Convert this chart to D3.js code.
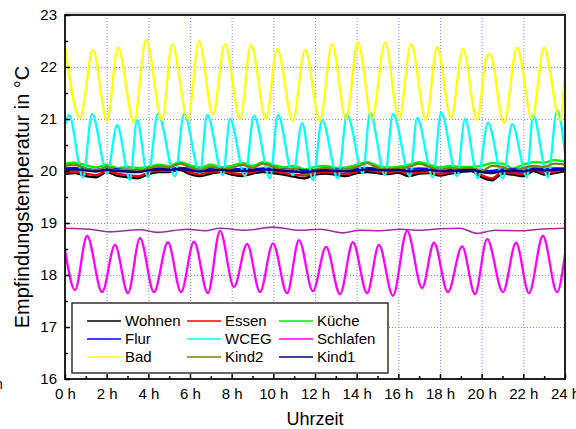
<!DOCTYPE html>
<html>
<head>
<meta charset="utf-8">
<script src="https://cdn.jsdelivr.net/npm/d3@7"></script>
<style>
  html, body { margin: 0; padding: 0; background: #fff; }
  svg { display: block; font-family: "Liberation Sans", Arial, sans-serif; }
</style>
</head>
<body>
<svg id="chart" width="576" height="429"></svg>
<script>
// half-hour grid used by the flat room series
const hours = [0, 0.5, 1, 1.5, 2, 2.5, 3, 3.5, 4, 4.5, 5, 5.5, 6, 6.5, 7, 7.5, 8, 8.5, 9, 9.5,
  10, 10.5, 11, 11.5, 12, 12.5, 13, 13.5, 14, 14.5, 15, 15.5, 16, 16.5, 17, 17.5, 18, 18.5, 19, 19.5,
  20, 20.5, 21, 21.5, 22, 22.5, 23, 23.5, 24];

const wohnen = [19.94, 19.96, 19.90, 19.88, 19.98, 19.91, 19.88, 19.86, 19.94, 19.98, 19.98, 20.02, 19.94, 19.90, 19.95, 19.98, 19.93, 19.90, 19.95, 19.98,
  19.96, 19.93, 19.89, 19.86, 19.93, 19.95, 19.93, 19.90, 19.96, 19.98, 19.96, 19.94, 19.97, 19.90, 19.95, 19.96, 19.91, 19.95, 19.98, 20.00,
  19.88, 19.82, 19.95, 19.93, 19.90, 20.00, 19.93, 19.96, 20.00];
const essen = [19.97, 19.99, 19.95, 19.92, 20.00, 19.95, 19.92, 19.90, 19.97, 20.01, 20.00, 20.05, 19.97, 19.94, 19.98, 20.00, 19.96, 19.94, 19.98, 20.02,
  20.00, 19.96, 19.93, 19.91, 19.96, 19.98, 19.96, 19.94, 19.99, 20.02, 19.99, 19.97, 20.00, 19.94, 19.98, 19.99, 19.94, 19.98, 20.01, 20.03,
  19.92, 19.86, 19.98, 19.96, 19.94, 20.03, 19.96, 19.99, 20.03];
const kueche = [20.14, 20.16, 20.11, 20.07, 20.12, 20.06, 20.08, 20.06, 20.08, 20.12, 20.10, 20.17, 20.11, 20.07, 20.12, 20.07, 20.10, 20.15, 20.10, 20.17,
  20.12, 20.07, 20.10, 20.03, 20.08, 20.10, 20.06, 20.07, 20.12, 20.17, 20.10, 20.07, 20.08, 20.12, 20.17, 20.12, 20.07, 20.10, 20.08, 20.08,
  20.10, 20.15, 20.14, 20.05, 20.12, 20.17, 20.16, 20.21, 20.18];
const flur = [20.05, 20.06, 20.04, 20.02, 20.05, 20.03, 20.02, 20.01, 20.03, 20.05, 20.04, 20.06, 20.04, 20.02, 20.04, 20.04, 20.03, 20.04, 20.03, 20.05,
  20.04, 20.03, 20.03, 20.01, 20.02, 20.04, 20.03, 20.02, 20.04, 20.06, 20.04, 20.03, 20.04, 20.03, 20.05, 20.04, 20.02, 20.03, 20.03, 20.04,
  20.01, 20.00, 20.03, 20.03, 20.02, 20.05, 20.04, 20.05, 20.05];
const kind2 = [20.10, 20.12, 20.05, 20.01, 20.08, 20.01, 20.03, 20.01, 20.05, 20.09, 20.07, 20.14, 20.07, 20.02, 20.08, 20.03, 20.06, 20.12, 20.06, 20.14,
  20.08, 20.02, 20.05, 19.94, 20.02, 20.06, 20.02, 20.03, 20.08, 20.15, 20.06, 20.03, 20.04, 20.08, 20.14, 20.08, 20.02, 20.06, 20.04, 20.05,
  20.00, 20.10, 20.08, 19.99, 20.06, 20.10, 20.08, 20.14, 20.12];
const kind1 = [20.02, 20.03, 20.01, 19.99, 20.02, 20.00, 19.99, 19.98, 20.01, 20.03, 20.02, 20.04, 20.01, 19.99, 20.01, 20.02, 20.00, 20.00, 20.01, 20.03,
  20.02, 20.00, 19.99, 19.97, 20.00, 20.01, 20.00, 19.99, 20.01, 20.03, 20.02, 20.01, 20.02, 19.99, 20.01, 20.02, 19.99, 20.00, 20.01, 20.02,
  19.98, 19.96, 20.00, 20.00, 19.99, 20.03, 20.01, 20.02, 20.03];

// oscillating rooms: turning points
const badTimes = [0, 0.72, 1.34, 2.02, 2.54, 3.31, 3.89, 4.66, 5.14, 5.90, 6.43, 7.10, 7.68, 8.40, 8.93, 9.65, 10.18, 10.94, 11.52, 12.24,
  12.82, 13.49, 14.06, 14.74, 15.36, 16.03, 16.61, 17.33, 17.86, 18.53, 19.10, 19.78, 20.21, 20.40, 21.07, 21.70, 22.42, 22.99, 23.76, 24];
const badValues = [22.40, 21.02, 22.33, 20.96, 22.37, 20.94, 22.52, 20.98, 22.44, 21.00, 22.50, 21.08, 22.44, 21.00, 22.42, 21.00, 22.35, 20.96, 22.33, 20.96,
  22.44, 21.00, 22.48, 21.00, 22.48, 21.00, 22.44, 20.98, 22.38, 21.02, 22.35, 20.98, 22.15, 22.25, 20.92, 22.37, 21.00, 22.37, 20.98, 21.94];

const wcegTimes = [0, 0.19, 0.86, 1.30, 2.02, 2.50, 3.12, 3.46, 3.98, 4.46, 5.28, 5.71, 6.48, 6.82, 7.58, 7.92, 8.64, 9.07, 9.84, 10.22,
  10.94, 11.38, 11.90, 12.34, 13.10, 13.54, 14.30, 14.64, 15.36, 15.74, 16.56, 16.90, 17.66, 18.05, 18.82, 19.20, 19.82, 20.30, 21.02, 21.46,
  22.18, 22.46, 23.18, 23.62, 24];
const wcegValues = [20.88, 21.08, 19.88, 21.10, 19.95, 20.88, 19.83, 20.98, 19.88, 21.10, 19.90, 21.10, 19.96, 21.08, 19.92, 21.00, 19.90, 21.06, 19.86, 21.08,
  19.92, 20.92, 19.83, 20.98, 19.86, 21.08, 19.96, 21.12, 19.92, 21.10, 19.90, 21.02, 19.88, 21.12, 19.90, 21.00, 19.86, 20.93, 19.86, 20.90,
  19.88, 21.08, 19.88, 21.17, 20.35];

const schlafenTimes = [0, 0.48, 1.06, 1.78, 2.40, 3.02, 3.60, 4.27, 4.94, 5.57, 6.19, 6.86, 7.44, 8.11, 8.74, 9.36, 9.98, 10.66, 11.23, 11.90,
  12.53, 13.20, 13.82, 14.50, 15.07, 15.74, 16.42, 17.14, 17.71, 18.38, 19.06, 19.68, 20.26, 21.02, 21.65, 22.27, 22.94, 23.62, 24];
const schlafenValues = [18.48, 17.71, 18.75, 17.67, 18.58, 17.65, 18.71, 17.67, 18.63, 17.67, 18.64, 17.65, 18.85, 17.77, 18.60, 17.67, 18.61, 17.65, 18.67, 17.69,
  18.54, 17.63, 18.63, 17.65, 18.58, 17.60, 18.85, 17.75, 18.62, 17.67, 18.55, 17.63, 18.69, 17.67, 18.62, 17.65, 18.75, 17.67, 18.40];

// unlabeled purple series near 18.9
const extraTimes = [0, 1.2, 2.16, 3.6, 4.42, 5.86, 6.72, 7.44, 8.64, 9.98, 11.28, 12.24, 13.34, 14.16, 15.12, 16.08, 17.04, 18.0, 18.96, 19.78,
  20.64, 21.84, 22.8, 24];
const extraValues = [18.90, 18.88, 18.83, 18.87, 18.82, 18.88, 18.85, 18.90, 18.86, 18.92, 18.86, 18.88, 18.81, 18.86, 18.85, 18.88, 18.86, 18.89, 18.90, 18.80,
  18.86, 18.85, 18.88, 18.90];

const xTicks = [0, 2, 4, 6, 8, 10, 12, 14, 16, 18, 20, 22, 24];
const xTickLabels = ["0 h", "2 h", "4 h", "6 h", "8 h", "10 h", "12 h", "14 h", "16 h", "18 h", "20 h", "22 h", "24 h"];
const yTicks = [16, 17, 18, 19, 20, 21, 22, 23];

const series = [
  {name: "Wohnen", color: "#000000", t: hours, v: wohnen},
  {name: "Essen", color: "#ff0000", t: hours, v: essen},
  {name: "Küche", color: "#00ee00", t: hours, v: kueche},
  {name: "Flur", color: "#0000ff", t: hours, v: flur},
  {name: "WCEG", color: "#00ffff", t: wcegTimes, v: wcegValues},
  {name: "Schlafen", color: "#ff00ff", t: schlafenTimes, v: schlafenValues},
  {name: "Bad", color: "#ffff00", t: badTimes, v: badValues},
  {name: "Kind2", color: "#808000", t: hours, v: kind2},
  {name: "Kind1", color: "#000080", t: hours, v: kind1},
  {name: null, color: "#993399", t: extraTimes, v: extraValues, width: 1.6}
];

const svg = d3.select("#chart");
const margin = {left: 65, right: 565, top: 15, bottom: 379};

const x = d3.scaleLinear().domain([0, 24]).range([margin.left, margin.right]);
const y = d3.scaleLinear().domain([16, 23]).range([margin.bottom, margin.top]);

// grid
const grid = svg.append("g").attr("stroke", "#7f7fff").attr("stroke-width", 1)
  .attr("stroke-dasharray", "1,2");
grid.selectAll(".vg").data(xTicks.slice(1, -1)).enter().append("line")
  .attr("x1", d => x(d) + 0.5).attr("x2", d => x(d) + 0.5)
  .attr("y1", margin.top).attr("y2", margin.bottom);
grid.selectAll(".hg").data(yTicks.slice(1, -1)).enter().append("line")
  .attr("y1", d => Math.round(y(d)) + 0.5).attr("y2", d => Math.round(y(d)) + 0.5)
  .attr("x1", margin.left).attr("x2", margin.right);

svg.append("clipPath").attr("id", "clip").append("rect")
  .attr("x", margin.left).attr("y", margin.top)
  .attr("width", margin.right - margin.left).attr("height", margin.bottom - margin.top);

const line = d3.line().curve(d3.curveMonotoneX);
const plot = svg.append("g").attr("clip-path", "url(#clip)");
series.forEach(s => {
  plot.append("path")
    .attr("d", line(s.t.map((t, i) => [x(t), y(s.v[i])])))
    .attr("fill", "none")
    .attr("stroke", s.color)
    .attr("stroke-width", s.width || 2.3)
    .attr("stroke-linejoin", "round");
});

// legend
const lg = svg.append("g");
lg.append("rect").attr("x", 72).attr("y", 303).attr("width", 316).attr("height", 70)
  .attr("fill", "#fff").attr("stroke", "#333").attr("stroke-width", 1.5);
const legendOrder = ["Wohnen", "Essen", "Küche", "Flur", "WCEG", "Schlafen", "Bad", "Kind2", "Kind1"];
const colX = [87, 187, 279];
legendOrder.forEach((name, i) => {
  const s = series.find(d => d.name === name);
  const cx = colX[i % 3], cy = 321 + Math.floor(i / 3) * 18;
  lg.append("line").attr("x1", cx).attr("x2", cx + 34).attr("y1", cy).attr("y2", cy)
    .attr("stroke", s.color).attr("stroke-width", 1.5);
  lg.append("text").attr("x", cx + 38).attr("y", cy + 5).attr("font-size", 15)
    .attr("fill", "#000").text(name);
});

// frame
svg.append("rect").attr("x", margin.left).attr("y", margin.top)
  .attr("width", margin.right - margin.left).attr("height", margin.bottom - margin.top)
  .attr("fill", "none").attr("stroke", "#222").attr("stroke-width", 2);
svg.append("line").attr("x1", margin.left).attr("x2", margin.right)
  .attr("y1", margin.top - 2).attr("y2", margin.top - 2)
  .attr("stroke", "#bbb").attr("stroke-width", 1);

// axes with inward ticks
const xAxis = d3.axisBottom(x).tickValues(xTicks).tickSize(-5).tickPadding(9)
  .tickFormat((d, i) => xTickLabels[i]);
const gx = svg.append("g").attr("transform", `translate(0,${margin.bottom})`).call(xAxis);
gx.select(".domain").remove();
gx.selectAll(".tick line").attr("stroke", "#000").attr("stroke-width", 1.5);
gx.selectAll("text").attr("font-size", 15).attr("fill", "#000")
  .attr("font-family", "'Liberation Sans', Arial, sans-serif");
const gxm = svg.append("g").attr("transform", `translate(0,${margin.bottom})`)
  .call(d3.axisBottom(x).tickValues([1, 3, 5, 7, 9, 11, 13, 15, 17, 19, 21, 23]).tickSize(-3).tickFormat(""));
gxm.select(".domain").remove();
gxm.selectAll(".tick line").attr("stroke", "#000").attr("stroke-width", 1.5);

const yAxis = d3.axisLeft(y).tickValues(yTicks).tickSize(-5).tickPadding(8).tickFormat(d3.format("d"));
const gy = svg.append("g").attr("transform", `translate(${margin.left},0)`).call(yAxis);
gy.select(".domain").remove();
gy.selectAll(".tick line").attr("stroke", "#000").attr("stroke-width", 1.5);
gy.selectAll("text").attr("font-size", 15).attr("fill", "#000")
  .attr("font-family", "'Liberation Sans', Arial, sans-serif");
const gym = svg.append("g").attr("transform", `translate(${margin.left},0)`)
  .call(d3.axisLeft(y).tickValues([16.5, 17.5, 18.5, 19.5, 20.5, 21.5, 22.5]).tickSize(-3).tickFormat(""));
gym.select(".domain").remove();
gym.selectAll(".tick line").attr("stroke", "#000").attr("stroke-width", 1.5);

// titles
svg.append("text").attr("transform", `translate(29,${(margin.top + margin.bottom) / 2}) rotate(-90)`)
  .attr("text-anchor", "middle").attr("font-size", 20).text("Empfindungstemperatur in °C");
svg.append("text").attr("x", 315).attr("y", 425).attr("text-anchor", "middle")
  .attr("font-size", 18).text("Uhrzeit");
svg.append("text").attr("x", -5).attr("y", 389).attr("font-size", 14).text("n");
</script>
</body>
</html>
